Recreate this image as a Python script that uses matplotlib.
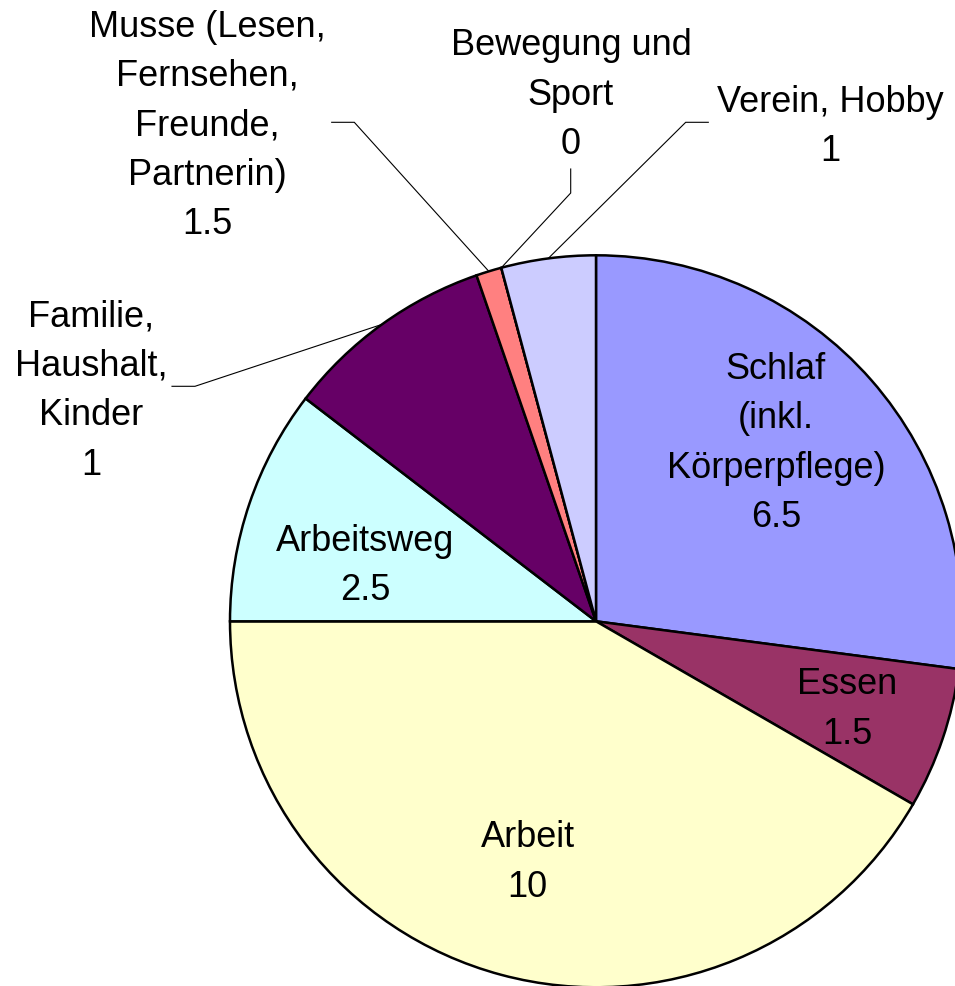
import matplotlib
matplotlib.use('Agg')
import matplotlib.pyplot as plt
import numpy as np

# ---- data ----
categories = ['Schlaf (inkl. Körperpflege)', 'Essen', 'Arbeit', 'Arbeitsweg',
              'Familie, Haushalt, Kinder',
              'Musse (Lesen, Fernsehen, Freunde, Partnerin)',
              'Bewegung und Sport', 'Verein, Hobby']
hours = [6.5, 1.5, 10, 2.5, 2.23, 0.27, 0, 1.0]          # slice sizes as drawn
shown_values = ['6.5', '1.5', '10', '2.5', '1', '1.5', '0', '1']  # values printed in labels
label_names = ['Schlaf\n(inkl.\nKörperpflege)', 'Essen', 'Arbeit', 'Arbeitsweg',
               'Familie,\nHaushalt,\nKinder',
               'Musse (Lesen,\nFernsehen,\nFreunde,\nPartnerin)',
               'Bewegung und\nSport', 'Verein, Hobby']
colors = ['#9999FF', '#993366', '#FFFFCC', '#CCFFFF', '#660066', '#FF8080', '#0066CC', '#CCCCFF']

# ---- layout (pixels, origin top-left) ----
W, H = 955, 987
cx_px, cy_px, R = 596, 622.3, 366
label_pos = [(776, 379), (847, 694.3), (527.5, 847.3), (365, 550.7),
             (91, 326.7), (207, 36.7), (571, 55.5), (830, 111.7)]
line_gap = 49.3
leader_kinks = {4: [(172, 387.3), (195, 387.3)],
                5: [(331.7, 123.3), (354.3, 123.3)],
                6: [(570.7, 170), (570.7, 194)],
                7: [(708.3, 123.3), (685.7, 123.3)]}
FONT = 'Liberation Sans'
FS = 26

fig = plt.figure(figsize=(W / 100, H / 100), dpi=100)
ax = fig.add_axes([0, 0, 1, 1])
ax.pie(hours, colors=colors, startangle=90, counterclock=False,
       center=(cx_px, H - cy_px), radius=R, frame=True,
       wedgeprops=dict(edgecolor='black', linewidth=1.8, joinstyle='miter'))
ax.set_xlim(0, W)
ax.set_ylim(0, H)
ax.set_aspect('equal')
ax.axis('off')

# labels
for i, (name, val) in enumerate(zip(label_names, shown_values)):
    lines = (name + '\n' + val).split('\n')
    x, b0 = label_pos[i]
    for j, ln in enumerate(lines):
        ax.text(x, H - (b0 + j * line_gap), ln, ha='center', va='baseline',
                fontsize=FS, family=FONT, color='black')

# leader lines to slice mid-points
total = sum(hours)
cum = np.concatenate([[0], np.cumsum(hours)])
for i, kinks in leader_kinks.items():
    frac = (cum[i] + hours[i] / 2) / total
    th = np.deg2rad(90 - 360 * frac)
    ex = cx_px + R * np.cos(th)
    ey = cy_px - R * np.sin(th)
    pts = kinks + [(ex, ey)]
    ax.plot([p[0] for p in pts], [H - p[1] for p in pts], color='black', lw=0.8,
            solid_joinstyle='miter')

fig.savefig('out.png', dpi=100, facecolor='white')
